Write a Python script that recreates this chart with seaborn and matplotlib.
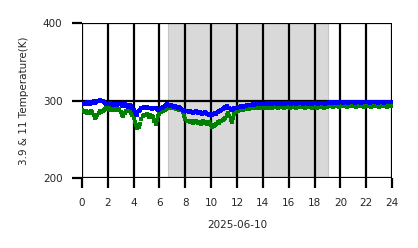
import numpy as np
import pandas as pd
import matplotlib
matplotlib.use("Agg")
import matplotlib.pyplot as plt
import seaborn as sns

# Sample times (hours), 0.1 h sampling
hours = np.round(np.arange(0, 24.0001, 0.1), 1)

# 3.9 um brightness temperature (K)
t39 = [
    296, 297, 295, 296, 298, 297, 296, 297, 298, 299,
    297, 298, 299, 300, 301, 300, 299, 298, 297, 296,
    295, 296, 297, 295, 294, 296, 295, 294, 295, 296,
    295, 294, 293, 295, 294, 293, 292, 294, 293, 290,
    288, 285, 283, 282, 286, 288, 290, 291, 292, 291,
    292, 291, 290, 291, 289, 290, 291, 290, 289, 288,
    289, 290, 291, 292, 293, 294, 295, 294, 293, 294,
    293, 292, 293, 292, 291, 292, 290, 289, 288, 287,
    286, 287, 286, 285, 286, 285, 284, 285, 286, 285,
    284, 285, 284, 283, 284, 285, 284, 283, 282, 283,
    281, 282, 283, 284, 283, 285, 286, 287, 288, 289,
    290, 292, 293, 291, 290, 289, 288, 289, 290, 291,
    291, 292, 292, 293, 293, 292, 293, 293, 294, 294,
    294, 294, 295, 294, 295, 295, 295, 295, 296, 295,
    296, 296, 296, 297, 296, 296, 297, 296, 297, 297,
    297, 296, 297, 297, 296, 297, 297, 296, 297, 297,
    297, 297, 296, 297, 297, 297, 296, 297, 297, 297,
    297, 296, 297, 297, 297, 296, 297, 297, 296, 297,
    297, 297, 297, 296, 297, 297, 297, 297, 296, 297,
    297, 298, 297, 298, 298, 297, 298, 298, 297, 298,
    298, 298, 297, 298, 298, 298, 297, 298, 298, 298,
    298, 297, 298, 298, 298, 298, 297, 298, 298, 298,
    298, 298, 298, 297, 298, 298, 298, 298, 298, 297,
    298, 298, 298, 298, 297, 298, 298, 298, 298, 298,
    298,
]

# 11 um brightness temperature (K)
t11 = [
    288, 287, 285, 286, 284, 285, 284, 286, 285, 281,
    278, 279, 281, 284, 286, 285, 287, 288, 289, 290,
    290, 289, 288, 290, 289, 288, 290, 289, 288, 289,
    285, 281, 280, 284, 286, 287, 288, 286, 284, 282,
    278, 272, 268, 265, 266, 270, 276, 280, 282, 281,
    283, 282, 279, 281, 280, 279, 274, 270, 275, 280,
    283, 285, 286, 287, 288, 289, 290, 291, 291, 290,
    290, 291, 290, 289, 289, 288, 289, 288, 285, 280,
    276, 274, 273, 274, 272, 273, 271, 272, 273, 272,
    271, 272, 270, 271, 273, 272, 271, 270, 272, 270,
    268, 266, 267, 269, 270, 272, 271, 273, 274, 275,
    276, 278, 282, 284, 280, 275, 272, 278, 283, 285,
    287, 287, 288, 288, 289, 288, 289, 289, 290, 289,
    290, 290, 290, 291, 291, 290, 291, 291, 292, 291,
    292, 291, 292, 292, 291, 292, 292, 291, 292, 292,
    292, 292, 291, 292, 292, 292, 291, 292, 292, 292,
    292, 291, 292, 292, 292, 292, 291, 292, 292, 292,
    292, 292, 292, 291, 292, 292, 292, 292, 291, 292,
    292, 292, 291, 292, 292, 292, 292, 291, 292, 292,
    292, 293, 293, 293, 292, 293, 293, 293, 293, 292,
    293, 293, 293, 293, 293, 292, 293, 293, 293, 293,
    293, 293, 292, 293, 293, 293, 293, 293, 292, 293,
    293, 293, 293, 293, 292, 293, 293, 293, 293, 293,
    292, 293, 293, 293, 293, 293, 292, 293, 293, 293,
    293,
]

# Shaded (night) interval in hours
shade_start, shade_end = 6.65, 19.05
xticks = list(range(0, 25, 2))
yticks = [200, 300, 400]
xlabel = "2025-06-10"
ylabel = "3.9 & 11 Temperature(K)"

df = pd.DataFrame({"hour": hours, "t39": t39, "t11": t11})

sns.set_style("white")
fig = plt.figure(figsize=(4.18, 2.48), dpi=100)
ax = fig.add_axes([0.196, 0.282, 0.742, 0.625])

ax.axvspan(shade_start, shade_end, color="#d9d9d9", zorder=0, lw=0.8, ec="#c4c4c4")

sns.scatterplot(data=df, x="hour", y="t11", ax=ax, color="green", marker="s",
                s=7, linewidth=0, zorder=3)
sns.scatterplot(data=df, x="hour", y="t39", ax=ax, color="blue", marker="s",
                s=6, linewidth=0, zorder=4)

ax.set_xlim(0, 24)
ax.set_ylim(200, 400)
ax.set_xticks(xticks)
ax.set_xticklabels([str(t) for t in xticks])
ax.set_yticks(yticks)
for sp in ax.spines.values():
    sp.set_visible(False)
ax.grid(True, color="black", lw=1.6, zorder=2)
ax.set_axisbelow(False)
ax.tick_params(axis="both", which="major", length=7, width=1.6, color="black",
               labelsize=7.5, pad=7, left=True, bottom=True)
ax.set_xlabel(xlabel, fontsize=7.5, labelpad=9)
ax.set_ylabel(ylabel, fontsize=7.5, labelpad=10)

fig.savefig("out.png", dpi=100)
